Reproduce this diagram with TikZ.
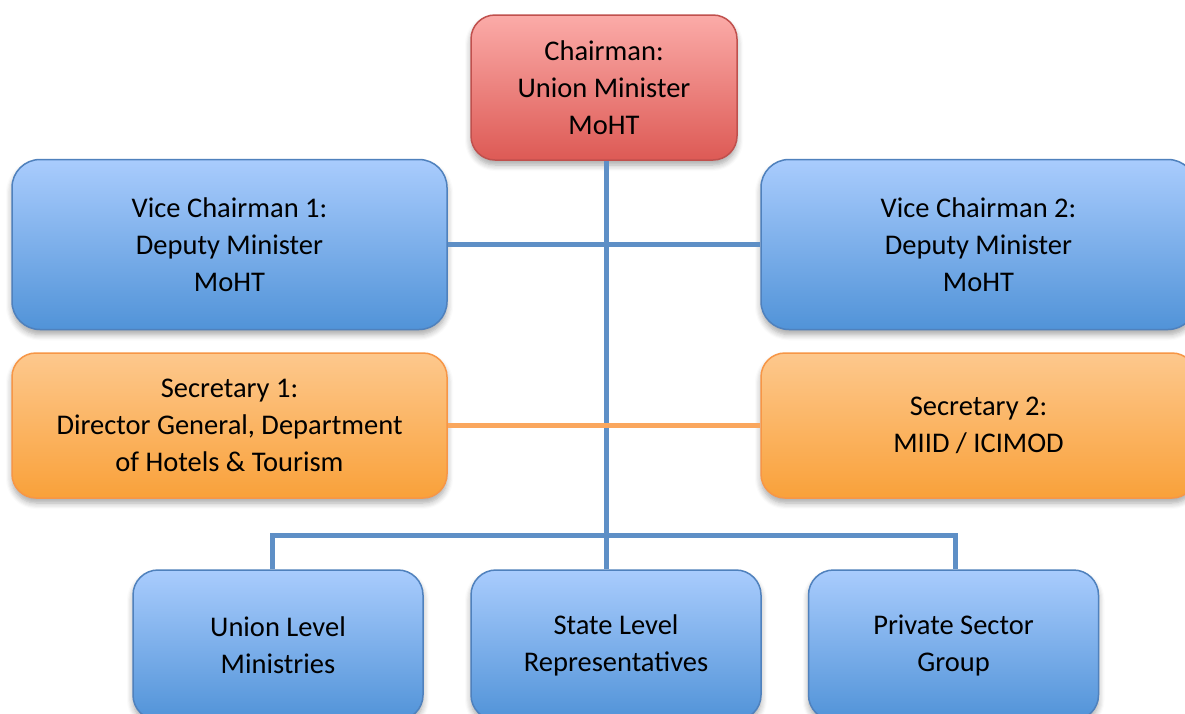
\documentclass[tikz,border=0pt]{standalone}
\usepackage{fontspec}
\setmainfont{Carlito}
\usetikzlibrary{shadows,shadows.blur}
\definecolor{redtop}{HTML}{FBABA8}
\definecolor{redbot}{HTML}{DD5A55}
\definecolor{redline}{HTML}{C0504D}
\definecolor{bluetop}{HTML}{A9CCFD}
\definecolor{bluebot}{HTML}{5193D8}
\definecolor{blueline}{HTML}{4F81BD}
\definecolor{orgtop}{HTML}{FDC88D}
\definecolor{orgbot}{HTML}{F9A13A}
\definecolor{orgline}{HTML}{F79646}
\definecolor{connblue}{HTML}{5E8FC6}
\definecolor{connorg}{HTML}{FAA75E}
\begin{document}
\begin{tikzpicture}[x=1pt,y=-1pt,
  box/.style={rectangle, inner sep=0pt, align=center, line width=1.5pt,
    font=\fontsize{28.5}{37}\selectfont,
    blur shadow={shadow xshift=0pt, shadow yshift=-5pt, shadow opacity=35, shadow blur radius=6pt, shadow blur steps=6}},
  redbox/.style={box, draw=redline, top color=redtop, bottom color=redbot},
  bluebox/.style={box, draw=blueline, top color=bluetop, bottom color=bluebot},
  orgbox/.style={box, draw=orgline, top color=orgtop, bottom color=orgbot},
  conn/.style={draw=connblue, line width=5pt},
  connO/.style={draw=connorg, line width=4.5pt}]
\useasboundingbox (0,0) rectangle (1185,713);
\clip (0,0) rectangle (1185,713);
\node[redbox, minimum width=266pt, minimum height=145pt, rounded corners=24pt] (ch) at (604,87.5) {Chairman:\\Union Minister\\MoHT};
\node[bluebox, minimum width=435pt, minimum height=170pt, rounded corners=28pt] (vc1) at (229.5,244.5) {Vice Chairman 1:\\Deputy Minister\\MoHT};
\node[bluebox, minimum width=435pt, minimum height=170pt, rounded corners=28pt] (vc2) at (978.5,244.5) {Vice Chairman 2:\\Deputy Minister\\MoHT};
\node[orgbox, minimum width=435pt, minimum height=145pt, rounded corners=24pt] (s1) at (229.5,425.5) {Secretary 1:\\Director General, Department\\of Hotels \& Tourism};
\node[orgbox, minimum width=435pt, minimum height=145pt, rounded corners=24pt] (s2) at (978.5,425.5) {Secretary 2:\\MIID / ICIMOD};
\node[bluebox, minimum width=290pt, minimum height=150pt, rounded corners=25pt] (un) at (278,645) {Union Level\\Ministries};
\node[bluebox, minimum width=290pt, minimum height=150pt, rounded corners=25pt] (st) at (616,645) {State Level\\Representatives};
\node[bluebox, minimum width=290pt, minimum height=150pt, rounded corners=25pt] (pv) at (953.5,645) {Private Sector\\Group};
\coordinate (bar) at (606,535);
\draw[conn] (ch.south -| bar) -- (st.north -| bar);
\draw[conn] (vc1.east) -- (vc2.west);
\draw[connO] (s1.east) -- (s2.west);
\draw[conn] ([xshift=-6pt]un.north) |- ([xshift=1.5pt]pv.north |- bar) -- ([xshift=1.5pt]pv.north);
\end{tikzpicture}
\end{document}
